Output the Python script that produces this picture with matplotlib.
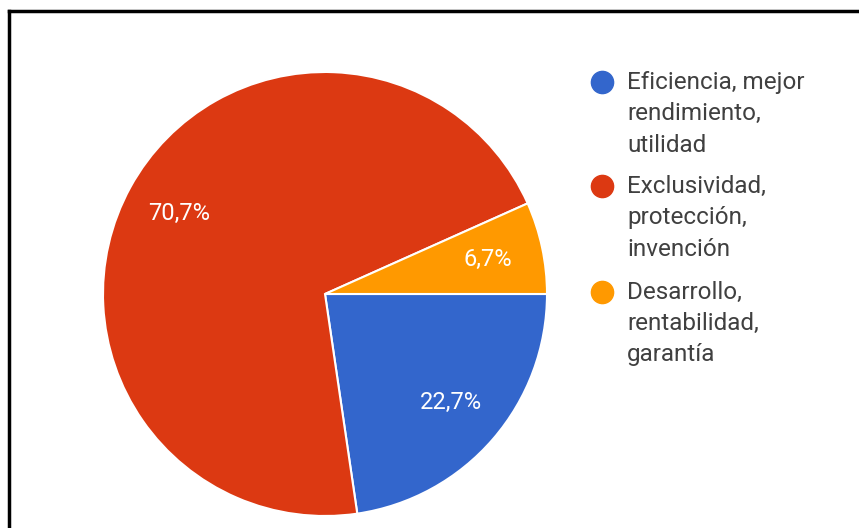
import numpy as np
import matplotlib
matplotlib.use("Agg")
import matplotlib.pyplot as plt
from matplotlib.lines import Line2D

plt.rcParams['font.family'] = ['Roboto', 'DejaVu Sans']

# data
categories = ["Eficiencia, mejor\nrendimiento,\nutilidad",
              "Exclusividad,\nprotección,\ninvención",
              "Desarrollo,\nrentabilidad,\ngarantía"]
shares = [22.7, 70.7, 6.7]
share_labels = ["22,7%", "70,7%", "6,7%"]
colors = ["#3366CC", "#DC3912", "#FF9900"]

W, H = 859, 528
fig = plt.figure(figsize=(W / 100, H / 100), dpi=100)

# pie centre (325, 294) px, radius 222 px
cx, cy, r = 325, 294, 222
ax = fig.add_axes([(cx - r) / W, (H - cy - r) / H, 2 * r / W, 2 * r / H])

lbl_iter = iter(share_labels)
wedges, texts, autotexts = ax.pie(
    shares, colors=colors, startangle=0, counterclock=False,
    autopct=lambda p: next(lbl_iter), pctdistance=0.75,
    wedgeprops=dict(edgecolor="white", linewidth=1.5),
    textprops=dict(color="white", fontsize=17))
ax.set_xlim(-1, 1)
ax.set_ylim(-1, 1)
ax.set_aspect("equal")
ax.axis("off")

# legend drawn by hand so the dot sits on the first line of each label
dot_x = 602
text_x = 627
line_step = 31.5
item_y = [82, 186, 292]
for name, col, y0 in zip(categories, colors, item_y):
    fig.add_artist(Line2D([dot_x / W], [1 - y0 / H], marker="o", markersize=16,
                          markerfacecolor=col, markeredgecolor=col, linestyle="none"))
    for k, line in enumerate(name.split("\n")):
        y = y0 + k * line_step
        fig.text(text_x / W, 1 - y / H, line, fontsize=17.5, color="#404040",
                 ha="left", va="center")

# frame lines (top and left only)
fig.add_artist(Line2D([9 / W, 1], [1 - 11 / H, 1 - 11 / H], color="black", linewidth=2.5))
fig.add_artist(Line2D([9 / W, 9 / W], [0, 1 - 11 / H], color="black", linewidth=2.5))

fig.savefig("out.png", dpi=100, facecolor="white")
